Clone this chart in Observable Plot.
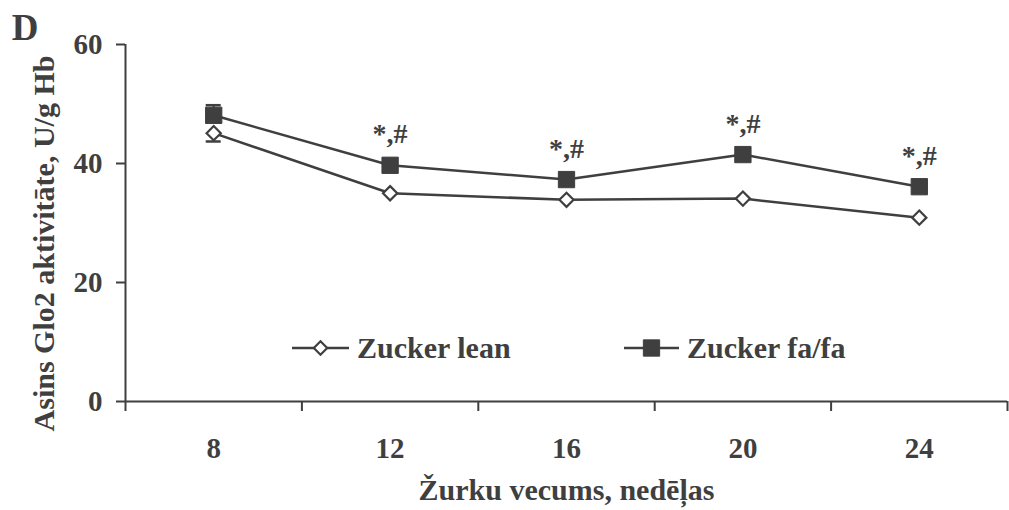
<!DOCTYPE html>
<html>
<head>
<meta charset="utf-8">
<script src="https://cdn.jsdelivr.net/npm/d3@7"></script>
<script src="https://cdn.jsdelivr.net/npm/@observablehq/plot@0.6"></script>
<style>
  html, body { margin: 0; padding: 0; background: #fff; }
</style>
</head>
<body>
<div id="chart"></div>
<script>
const weeks = [8, 12, 16, 20, 24];
const leanValues = [45.1, 35.0, 33.9, 34.1, 30.9];
const fafaValues = [48.1, 39.7, 37.3, 41.5, 36.1];
const leanSE = [1.4, null, null, null, null];
const fafaSE = [1.7, null, null, null, null];
const sigLabels = ["", "*,#", "*,#", "*,#", "*,#"];
const yTicks = [0, 20, 40, 60];
const xTickMarks = [6, 10, 14, 18, 22, 26];
const seriesNames = ["Zucker lean", "Zucker fa/fa"];
const panelLetter = "D";
const xTitle = "Žurku vecums, nedēļas";
const yTitle = "Asins Glo2 aktivitāte, U/g Hb";

const ink = "#3f3f3f";

const lean = weeks.map((w, i) => ({week: w, value: leanValues[i], se: leanSE[i]}));
const fafa = weeks.map((w, i) => ({week: w, value: fafaValues[i], se: fafaSE[i], sig: sigLabels[i]}));
const capHalf = 0.17;

const chart = Plot.plot({
  width: 1009,
  height: 510,
  marginLeft: 125,
  marginRight: 2,
  marginTop: 44,
  marginBottom: 109,
  x: {domain: [6, 26]},
  y: {domain: [0, 60]},
  style: `font-family: 'Liberation Serif', 'Times New Roman', serif; font-weight: bold; color: ${ink}; background: #fff;`,
  marks: [
    Plot.ruleY([0], {stroke: ink, strokeWidth: 2}),
    Plot.ruleX([6], {stroke: ink, strokeWidth: 2}),
    Plot.axisY({ticks: yTicks, tickSize: 9, tickPadding: 14, fontSize: 29, label: null, tickFormat: d => String(d), strokeWidth: 2, stroke: ink}),
    Plot.axisX({ticks: xTickMarks, tickSize: 10, tickFormat: () => "", label: null, strokeWidth: 2, stroke: ink}),
    Plot.axisX({ticks: weeks, tickSize: 0, tickPadding: 36, fontSize: 29, label: null, tickFormat: d => String(d)}),
    // lines
    Plot.line(lean, {x: "week", y: "value", stroke: ink, strokeWidth: 2.5}),
    Plot.line(fafa, {x: "week", y: "value", stroke: ink, strokeWidth: 2.5}),
    // error bars (visible parts)
    Plot.ruleX(fafa.filter(d => d.se != null), {x: "week", y1: "value", y2: d => d.value + d.se, stroke: ink, strokeWidth: 2}),
    Plot.ruleY(fafa.filter(d => d.se != null), {y: d => d.value + d.se, x1: d => d.week - capHalf, x2: d => d.week + capHalf, stroke: ink, strokeWidth: 2.5}),
    Plot.ruleX(lean.filter(d => d.se != null), {x: "week", y1: "value", y2: d => d.value - d.se, stroke: ink, strokeWidth: 2}),
    Plot.ruleY(lean.filter(d => d.se != null), {y: d => d.value - d.se, x1: d => d.week - capHalf, x2: d => d.week + capHalf, stroke: ink, strokeWidth: 2.5}),
    // markers
    Plot.dot(fafa, {x: "week", y: "value", symbol: "square", r: 9.2, fill: ink, stroke: ink, strokeWidth: 1}),
    Plot.dot(lean, {x: "week", y: "value", symbol: "diamond2", r: 6.4, fill: "#fff", stroke: ink, strokeWidth: 2.2}),
    // significance labels
    Plot.text(fafa, {x: "week", y: "value", text: "sig", dy: -22, lineAnchor: "bottom", fontSize: 28, fill: ink}),
    // titles
    Plot.text([panelLetter], {frameAnchor: "top-left", dx: 24.5 - 125, dy: 28 - 44, textAnchor: "middle", lineAnchor: "middle", fontSize: 37, fill: ink}),
    Plot.text([yTitle], {frameAnchor: "left", rotate: -90, dx: 43.5 - 125, dy: 243 - 222.5, textAnchor: "middle", lineAnchor: "middle", fontSize: 30, fill: ink}),
    Plot.text([xTitle], {frameAnchor: "bottom", dy: 490 - 401, textAnchor: "middle", lineAnchor: "middle", fontSize: 30, fill: ink})
  ]
});

document.getElementById("chart").appendChild(chart);

// legend inside the plot area
const svg = d3.select(chart);
const legend = svg.append("g").attr("class", "legend");
const items = [
  {name: seriesNames[0], x0: 292, x1: 349, type: "diamond2"},
  {name: seriesNames[1], x0: 624, x1: 679, type: "square"}
];
const ly = 348;
items.forEach(it => {
  const g = legend.append("g");
  g.append("line").attr("x1", it.x0).attr("x2", it.x1).attr("y1", ly).attr("y2", ly)
    .attr("stroke", ink).attr("stroke-width", 2.5);
  const cx = (it.x0 + it.x1) / 2;
  if (it.type === "square") {
    g.append("path").attr("d", d3.symbol(d3.symbolSquare, Math.PI * 9.2 * 9.2)())
      .attr("transform", `translate(${cx},${ly})`).attr("fill", ink).attr("stroke", ink);
  } else {
    g.append("path").attr("d", d3.symbol(d3.symbolDiamond2, Math.PI * 6 * 6)())
      .attr("transform", `translate(${cx},${ly})`).attr("fill", "#fff").attr("stroke", ink).attr("stroke-width", 2.2);
  }
  g.append("text").attr("x", it.x1 + 8).attr("y", ly + 10).attr("font-size", 30)
    .attr("text-anchor", "start").attr("fill", ink).text(it.name);
});
</script>
</body>
</html>
